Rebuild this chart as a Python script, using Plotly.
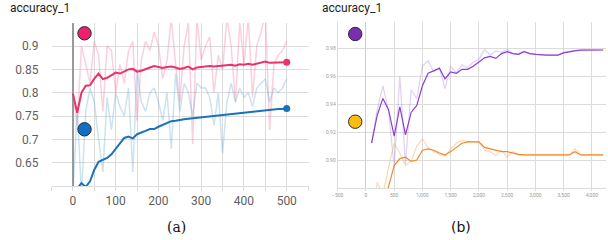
import plotly.graph_objects as go

# ---------------- panel (a) data ----------------
steps_a = [0, 10, 20, 30, 40, 50, 60, 70, 80, 90, 100, 110, 120, 130, 140, 150, 160, 170, 180, 190,
           200, 210, 220, 230, 240, 250, 260, 270, 280, 290, 300, 310, 320, 330, 340, 350, 360, 370,
           380, 390, 400, 410, 420, 430, 440, 450, 460, 470, 480, 490, 500]
pink_raw = [0.80, 0.73, 0.90, 0.86, 0.82, 0.91, 0.88, 0.76, 0.90, 0.89, 0.80, 0.86, 0.82, 0.89, 0.91,
            0.74, 0.87, 0.91, 0.89, 0.93, 0.90, 0.83, 0.87, 0.96, 0.86, 0.78, 0.90, 0.95, 0.69, 0.96,
            0.87, 0.90, 0.92, 0.80, 0.88, 0.85, 0.96, 0.90, 0.78, 0.95, 0.86, 0.96, 0.79, 0.90, 0.93,
            0.97, 0.72, 0.86, 0.88, 0.89, 0.91]
pink_smooth = [0.798, 0.757, 0.800, 0.815, 0.816, 0.830, 0.841, 0.829, 0.832, 0.837, 0.843, 0.841,
               0.845, 0.850, 0.851, 0.845, 0.847, 0.851, 0.854, 0.857, 0.855, 0.853, 0.855, 0.856,
               0.854, 0.851, 0.853, 0.856, 0.850, 0.854, 0.855, 0.856, 0.857, 0.856, 0.857, 0.857,
               0.859, 0.860, 0.858, 0.861, 0.860, 0.862, 0.860, 0.862, 0.865, 0.867, 0.864, 0.864,
               0.865, 0.865, 0.865]
blue_raw = [0.58, 0.77, 0.58, 0.76, 0.81, 0.78, 0.70, 0.63, 0.79, 0.72, 0.80, 0.77, 0.75, 0.81, 0.63,
            0.85, 0.78, 0.76, 0.80, 0.81, 0.78, 0.74, 0.80, 0.68, 0.84, 0.76, 0.82, 0.80, 0.75, 0.82,
            0.81, 0.81, 0.79, 0.73, 0.80, 0.67, 0.78, 0.82, 0.78, 0.81, 0.79, 0.80, 0.77, 0.81, 0.82,
            0.83, 0.78, 0.81, 0.80, 0.81, 0.83]
blue_smooth = [0.590, 0.595, 0.606, 0.598, 0.610, 0.635, 0.652, 0.656, 0.660, 0.668, 0.680, 0.690,
               0.703, 0.706, 0.702, 0.711, 0.714, 0.718, 0.722, 0.722, 0.727, 0.731, 0.736, 0.739,
               0.740, 0.742, 0.743, 0.744, 0.745, 0.747, 0.748, 0.749, 0.750, 0.751, 0.752, 0.753,
               0.754, 0.755, 0.756, 0.757, 0.757, 0.758, 0.759, 0.760, 0.761, 0.762, 0.763, 0.764,
               0.765, 0.765, 0.766]
ticks_a_y = [0.65, 0.7, 0.75, 0.8, 0.85, 0.9]
ticklabels_a_y = ["0.65", "0.7", "0.75", "0.8", "0.85", "0.9"]

# ---------------- panel (b) data ----------------
steps_b = [100, 200, 300, 400, 500, 600, 700, 800, 900, 1000, 1100, 1200, 1300, 1400, 1500, 1600,
           1700, 1800, 1900, 2000, 2100, 2200, 2300, 2400, 2500, 2600, 2700, 2800, 2900, 3000, 3100,
           3200, 3300, 3400, 3500, 3600, 3700, 3800, 3900, 4000, 4100, 4200]
purple_raw = [0.912, 0.936, 0.953, 0.935, 0.895, 0.960, 0.897, 0.950, 0.944, 0.967, 0.971, 0.963,
              0.966, 0.951, 0.967, 0.962, 0.968, 0.966, 0.970, 0.972, 0.979, 0.975, 0.978, 0.977,
              0.979, 0.976, 0.976, 0.978, 0.976, 0.9755, 0.975, 0.975, 0.975, 0.975, 0.977, 0.978,
              0.9786, 0.9786, 0.9786, 0.9786, 0.9786, 0.9786]
purple_smooth = [0.912, 0.932, 0.944, 0.936, 0.917, 0.938, 0.918, 0.934, 0.939, 0.953, 0.962, 0.964,
                 0.9655, 0.958, 0.963, 0.962, 0.9648, 0.9648, 0.967, 0.970, 0.973, 0.974, 0.9726,
                 0.976, 0.9774, 0.976, 0.9755, 0.9774, 0.976, 0.9755, 0.975, 0.975, 0.975, 0.975,
                 0.9765, 0.9775, 0.978, 0.9785, 0.9786, 0.9786, 0.9786, 0.9786]
orange_raw = [0.860, 0.884, 0.875, 0.895, 0.912, 0.905, 0.896, 0.899, 0.910, 0.915, 0.909, 0.906,
              0.904, 0.903, 0.908, 0.912, 0.914, 0.913, 0.913, 0.913, 0.907, 0.906, 0.903, 0.907,
              0.902, 0.906, 0.9036, 0.9036, 0.9036, 0.9036, 0.9036, 0.9036, 0.9036, 0.9036, 0.9036,
              0.9036, 0.908, 0.9036, 0.9036, 0.9036, 0.9036, 0.9036]
orange_smooth = [None, None, 0.870, 0.881, 0.896, 0.901, 0.902, 0.899, 0.900, 0.907, 0.908, 0.907,
                 0.905, 0.9036, 0.906, 0.909, 0.912, 0.913, 0.913, 0.913, 0.909, 0.908, 0.907, 0.906,
                 0.906, 0.905, 0.904, 0.9036, 0.9036, 0.9036, 0.9036, 0.9036, 0.9036, 0.9036, 0.9036,
                 0.9036, 0.906, 0.9036, 0.9036, 0.9036, 0.9036, 0.9036]
ticks_b_y = [0.88, 0.90, 0.92, 0.94, 0.96, 0.98]
ticklabels_b_y = ["", "0.90", "0.92", "0.94", "0.96", "0.98"]

PINK, PINK_L = "#e8336b", "rgba(240,120,160,0.35)"
BLUE, BLUE_L = "#1a72b8", "rgba(90,160,205,0.30)"
PURPLE, PURPLE_L = "#8a3fd4", "rgba(170,120,225,0.35)"
ORANGE, ORANGE_L = "#ef8a2a", "rgba(245,170,100,0.45)"
GRID = "#dcdcdc"

fig = go.Figure()

def line(x, y, color, width, xa, ya):
    fig.add_trace(go.Scatter(x=x, y=y, mode="lines", line=dict(color=color, width=width),
                             xaxis=xa, yaxis=ya, showlegend=False, hoverinfo="skip", cliponaxis=True))

# panel a
line(steps_a, pink_raw, PINK_L, 1.5, "x", "y")
line(steps_a, blue_raw, BLUE_L, 1.5, "x", "y")
line(steps_a, pink_smooth, PINK, 2, "x", "y")
line(steps_a, blue_smooth, BLUE, 2, "x", "y")
for ys, c in [(pink_smooth, PINK), (blue_smooth, BLUE)]:
    fig.add_trace(go.Scatter(x=[steps_a[-1]], y=[ys[-1]], mode="markers",
                             marker=dict(color=c, size=7), xaxis="x", yaxis="y",
                             showlegend=False, hoverinfo="skip"))

# panel b
line(steps_b, purple_raw, PURPLE_L, 1.2, "x2", "y2")
line(steps_b, orange_raw, ORANGE_L, 1.2, "x2", "y2")
line(steps_b, purple_smooth, PURPLE, 1.2, "x2", "y2")
line(steps_b, orange_smooth, ORANGE, 1.2, "x2", "y2")

W, H = 608, 240
fig.update_layout(
    width=W, height=H, margin=dict(l=0, r=0, t=0, b=0),
    paper_bgcolor="white", plot_bgcolor="white",
    xaxis=dict(domain=[46 / W, 306 / W], range=[-50, 552], anchor="y",
               tickvals=[0, 100, 200, 300, 400, 500], ticktext=["0", "100", "200", "300", "400", "500"],
               showgrid=True, gridcolor=GRID, gridwidth=1,
               minor=dict(dtick=50, tick0=0, showgrid=True, gridcolor=GRID, ticks="outside",
                          ticklen=4, tickcolor=GRID),
               ticks="outside", ticklen=4, tickcolor=GRID,
               zeroline=True, zerolinecolor="#9a9a9a", zerolinewidth=2,
               showline=True, linecolor=GRID, linewidth=1,
               tickfont=dict(family="Roboto", size=12, color="#5f5f5f")),
    yaxis=dict(domain=[(H - 186) / H, (H - 22.7) / H], range=[0.6, 0.95], anchor="x",
               tickvals=ticks_a_y, ticktext=ticklabels_a_y,
               showgrid=True, gridcolor=GRID, zeroline=False,
               minor=dict(tickvals=[0.6, 0.95], showgrid=True, gridcolor=GRID),
               ticklabelstandoff=12,
               tickfont=dict(family="Roboto", size=12, color="#5f5f5f")),
    xaxis2=dict(domain=[335 / W, 606 / W], range=[-500, 4250], anchor="y2",
                dtick=500, tick0=0, tickformat=",", showgrid=True, gridcolor=GRID,
                zeroline=True, zerolinecolor="#cfcfcf", zerolinewidth=1,
                showline=True, linecolor=GRID,
                ticks="outside", ticklen=2, tickcolor=GRID,
                tickfont=dict(family="Roboto", size=5, color="#9a9a9a")),
    yaxis2=dict(domain=[(H - 188) / H, (H - 22) / H], range=[0.88, 0.9986], anchor="x2",
                tickvals=ticks_b_y, ticktext=ticklabels_b_y, showgrid=True, gridcolor=GRID,
                zeroline=False, showline=True, linecolor=GRID,
                tickfont=dict(family="Roboto", size=5, color="#9a9a9a")),
)

# titles and captions
fig.add_annotation(text="accuracy_1", x=2 / W, y=1 - 8 / H, xref="paper", yref="paper",
                   xanchor="left", yanchor="middle", showarrow=False,
                   font=dict(family="Roboto", size=12, color="#222"))
fig.add_annotation(text="accuracy_1", x=317 / W, y=1 - 8 / H, xref="paper", yref="paper",
                   xanchor="left", yanchor="middle", showarrow=False,
                   font=dict(family="Roboto", size=12, color="#222"))
fig.add_annotation(text="(a)", x=172 / W, y=1 - 227 / H, xref="paper", yref="paper",
                   xanchor="center", yanchor="middle", showarrow=False,
                   font=dict(family="DejaVu Serif", size=14, color="#111"))
fig.add_annotation(text="(b)", x=460 / W, y=1 - 227 / H, xref="paper", yref="paper",
                   xanchor="center", yanchor="middle", showarrow=False,
                   font=dict(family="DejaVu Sans", size=14, color="#111"))

# decorative colored badges (pixel-sized circles)
badges = [(79.3, 33.3, "#ee1f6d"), (79.3, 129.3, "#1170c4"), (352.7, 34, "#7a2fae"), (352.7, 121.7, "#fdbd10")]
for px, py, col in badges:
    fig.add_shape(type="circle", xref="paper", yref="paper", xsizemode="pixel", ysizemode="pixel",
                  xanchor=px / W, yanchor=1 - py / H, x0=-6.7, x1=6.7, y0=-6.7, y1=6.7,
                  fillcolor=col, line=dict(color="#2a2a3a", width=1))

fig.write_html("out.html", config={"displayModeBar": False},
               post_script="document.body.style.margin='0px';document.body.style.overflow='hidden';")
